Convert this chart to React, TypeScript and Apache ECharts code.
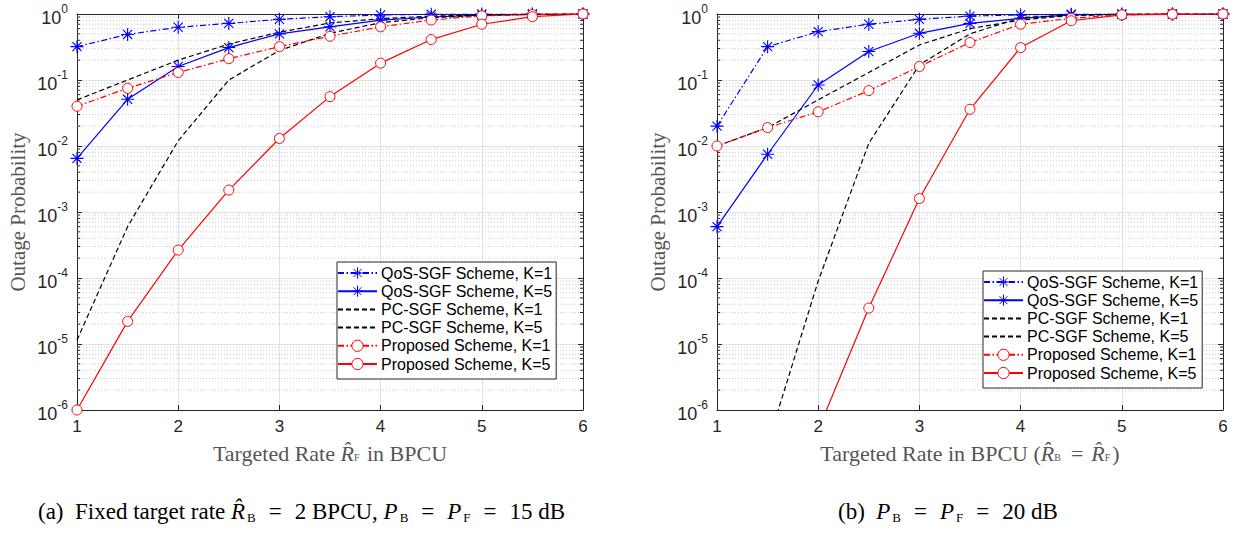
import React, { useEffect, useRef } from 'react';
import * as echarts from 'echarts';

// ---------- data ----------
const rates = [1, 1.5, 2, 2.5, 3, 3.5, 4, 4.5, 5, 5.5, 6];
const xTicks = [1, 2, 3, 4, 5, 6];
const seriesNames = [
  'QoS-SGF Scheme, K=1',
  'QoS-SGF Scheme, K=5',
  'PC-SGF Scheme, K=1',
  'PC-SGF Scheme, K=5',
  'Proposed Scheme, K=1',
  'Proposed Scheme, K=5',
];

// (a) fixed R_B = 2 BPCU, P = 15 dB
const qosK1A = [0.32, 0.49, 0.63, 0.72, 0.83, 0.91, 0.97, 0.99, 1.0, 1.0, 1.0];
const qosK5A = [0.0065, 0.051, 0.16, 0.31, 0.5, 0.64, 0.81, 0.9, 0.96, 0.99, 1.0];
const pcK1A = [0.05, 0.1, 0.2, 0.35, 0.53, 0.73, 0.85, 0.93, 0.97, 0.99, 1.0];
const pcK5A = [1.15e-5, 6e-4, 0.012, 0.1, 0.28, 0.51, 0.74, 0.88, 0.95, 0.99, 1.0];
const propK1A = [0.04, 0.075, 0.13, 0.21, 0.32, 0.46, 0.64, 0.81, 0.94, 0.98, 1.0];
const propK5A = [1e-6, 2.2e-5, 2.65e-4, 2.15e-3, 0.013, 0.056, 0.18, 0.41, 0.7, 0.91, 1.0];

// (b) P = 20 dB
const qosK1B = [0.02, 0.32, 0.54, 0.7, 0.83, 0.93, 0.97, 0.99, 1.0, 1.0, 1.0];
const qosK5B = [6e-4, 0.0075, 0.084, 0.27, 0.51, 0.72, 0.86, 0.97, 0.99, 1.0, 1.0];
const pcK1B = [0.01, 0.019, 0.05, 0.13, 0.34, 0.6, 0.81, 0.95, 0.99, 1.0, 1.0];
const pcK5B = [null, 3e-7, 9e-5, 0.011, 0.17, 0.5, 0.88, 0.97, 0.99, 1.0, 1.0];
const propK1B = [0.01, 0.019, 0.033, 0.069, 0.16, 0.37, 0.7, 0.86, 0.97, 1.0, 1.0];
const propK5B = [null, null, 5e-7, 3.5e-5, 1.6e-3, 0.036, 0.31, 0.79, 0.97, 0.99, 1.0];

const Y_MIN = 1e-6;
const Y_MAX = 1;

// ---------- styles ----------
const AXIS_COLOR = '#262626';
const ASTERISK = 'path://M6,0L6,12M0,6L12,6M1.8,1.8L10.2,10.2M1.8,10.2L10.2,1.8';
const DASH_DOT = [6, 2.5, 1.5, 2.5];
const DASHED = [5, 3];

const seriesStyles = [
  { color: '#0000ff', type: DASH_DOT as any, symbol: ASTERISK, size: 13, kind: 'star' },
  { color: '#0000ff', type: 'solid' as any, symbol: ASTERISK, size: 13, kind: 'star' },
  { color: '#000000', type: DASHED as any, symbol: 'circle', size: 0, kind: 'none' },
  { color: '#000000', type: DASHED as any, symbol: 'circle', size: 0, kind: 'none' },
  { color: '#ff0000', type: DASH_DOT as any, symbol: 'circle', size: 10, kind: 'ring' },
  { color: '#ff0000', type: 'solid' as any, symbol: 'circle', size: 10, kind: 'ring' },
];

const GRIDS = [
  { left: 77, top: 14, width: 506, height: 396 },
  { left: 717, top: 14, width: 506, height: 396 },
];

function minorValues(): number[] {
  const out: number[] = [];
  for (let e = -6; e < 0; e++) {
    for (let m = 2; m <= 9; m++) out.push(m * Math.pow(10, e));
  }
  return out;
}

function makeLine(values: (number | null)[], idx: number, g: number) {
  const s = seriesStyles[idx];
  let itemStyle: any;
  if (s.kind === 'none') itemStyle = { color: 'rgba(0,0,0,0)', borderColor: 'rgba(0,0,0,0)', borderWidth: 0 };
  else if (s.kind === 'ring') itemStyle = { color: '#ffffff', borderColor: s.color, borderWidth: 1.0 };
  else itemStyle = { color: s.color, borderColor: s.color, borderWidth: 1.1 };
  return {
    type: 'line',
    name: seriesNames[idx],
    xAxisIndex: g * 2,
    yAxisIndex: g * 2,
    data: rates.map((x, i) => [x, values[i]]),
    symbol: s.symbol,
    symbolSize: s.size,
    showSymbol: s.kind !== 'none',
    clip: true,
    z: 5,
    lineStyle: { color: s.color, width: 1.2, type: s.type },
    itemStyle,
    emphasis: { disabled: true },
  };
}

function makeMinor(g: number) {
  return {
    type: 'custom',
    xAxisIndex: g * 2,
    yAxisIndex: g * 2,
    silent: true,
    z: 1,
    data: minorValues().map((v) => [xTicks[0], v]),
    renderItem: (params: any, api: any) => {
      const v = api.value(1);
      const p1 = api.coord([xTicks[0], v]);
      const p2 = api.coord([xTicks[xTicks.length - 1], v]);
      return {
        type: 'group',
        children: [
          {
            type: 'line',
            shape: { x1: p1[0], y1: p1[1], x2: p2[0], y2: p2[1] },
            style: { stroke: '#cccccc', lineWidth: 1, lineDash: [1, 2] },
          },
          {
            type: 'line',
            shape: { x1: p1[0], y1: p1[1], x2: p1[0] + 3, y2: p1[1] },
            style: { stroke: AXIS_COLOR, lineWidth: 1 },
          },
          {
            type: 'line',
            shape: { x1: p2[0] - 3, y1: p2[1], x2: p2[0], y2: p2[1] },
            style: { stroke: AXIS_COLOR, lineWidth: 1 },
          },
        ],
      };
    },
  };
}

const serif = 'Liberation Serif';
const sans = 'Liberation Sans';
const NAME_COLOR = '#555555';

function xAxes(g: number, nameStr: string, rich: any) {
  return [
    {
      type: 'value',
      gridIndex: g,
      min: 1,
      max: 6,
      interval: 1,
      position: 'bottom',
      name: nameStr,
      nameLocation: 'middle',
      nameGap: 32,
      nameTextStyle: { rich },
      axisLine: { lineStyle: { color: AXIS_COLOR, width: 1 } },
      axisTick: { inside: true, length: 5, lineStyle: { color: AXIS_COLOR } },
      axisLabel: { color: AXIS_COLOR, fontSize: 17, fontFamily: sans, margin: 8 },
      splitLine: { show: true, lineStyle: { color: '#e1e1e1', width: 1 } },
    },
    {
      type: 'value',
      gridIndex: g,
      min: 1,
      max: 6,
      interval: 1,
      position: 'top',
      axisLine: { lineStyle: { color: AXIS_COLOR, width: 1 } },
      axisTick: { inside: true, length: 5, lineStyle: { color: AXIS_COLOR } },
      axisLabel: { show: false },
      splitLine: { show: false },
    },
  ];
}

function yAxes(g: number) {
  return [
    {
      type: 'log',
      gridIndex: g,
      min: Y_MIN,
      max: Y_MAX,
      logBase: 10,
      splitNumber: 6,
      position: 'left',
      name: 'Outage Probability',
      nameLocation: 'middle',
      nameGap: 49,
      nameTextStyle: { fontFamily: serif, fontSize: 21, color: NAME_COLOR },
      axisLine: { lineStyle: { color: AXIS_COLOR, width: 1 } },
      axisTick: { inside: true, length: 5, lineStyle: { color: AXIS_COLOR } },
      axisLabel: {
        margin: 9,
        formatter: (v: number) => {
          const e = Math.round(Math.log10(v));
          return '{b|10}{s|' + e + '}';
        },
        rich: {
          b: { fontSize: 18, fontFamily: sans, color: AXIS_COLOR, padding: [7, 0, 0, 0] },
          s: { fontSize: 12, fontFamily: sans, color: AXIS_COLOR, padding: [0, 0, 10, 0] },
        },
      },
      splitLine: { show: true, lineStyle: { color: '#e1e1e1', width: 1 } },
    },
    {
      type: 'log',
      gridIndex: g,
      min: Y_MIN,
      max: Y_MAX,
      logBase: 10,
      splitNumber: 6,
      position: 'right',
      axisLine: { lineStyle: { color: AXIS_COLOR, width: 1 } },
      axisTick: { inside: true, length: 5, lineStyle: { color: AXIS_COLOR } },
      axisLabel: { show: false },
      splitLine: { show: false },
    },
  ];
}

const nameRich = {
  n: { fontFamily: serif, fontSize: 22, color: NAME_COLOR },
  e: { fontFamily: serif, fontSize: 22, color: NAME_COLOR, padding: [0, 8, 0, 8] },
  i: { fontFamily: serif, fontSize: 22, fontStyle: 'italic', color: NAME_COLOR },
  sub: { fontFamily: serif, fontSize: 10, color: NAME_COLOR, padding: [9, 2, 0, 0] },
};

const capRich = {
  n: { fontFamily: serif, fontSize: 23, color: '#000000' },
  e: { fontFamily: serif, fontSize: 23, color: '#000000', padding: [0, 13, 0, 13] },
  i: { fontFamily: serif, fontSize: 23, fontStyle: 'italic', color: '#000000' },
  sub: { fontFamily: serif, fontSize: 13, color: '#000000', padding: [12, 0, 0, 2] },
};

function legendCfg(left: number, top: number) {
  return {
    data: seriesNames,
    orient: 'vertical',
    left,
    top,
    backgroundColor: '#ffffff',
    borderColor: AXIS_COLOR,
    borderWidth: 1,
    padding: [3, 4, 7, 0],
    itemWidth: 39,
    itemHeight: 14,
    itemGap: 2.2,
    selectedMode: false,
    itemStyle: { borderWidth: 1 },
    textStyle: { fontFamily: sans, fontSize: 16, lineHeight: 16, color: '#000000', padding: [0, 0, 0, -1] },
  };
}

export default function App() {
  const ref = useRef<HTMLDivElement>(null);
  useEffect(() => {
    if (!ref.current) return;
    const chart = echarts.init(ref.current, undefined, { renderer: 'svg' });
    const seriesA = [qosK1A, qosK5A, pcK1A, pcK5A, propK1A, propK5A];
    const seriesB = [qosK1B, qosK5B, pcK1B, pcK5B, propK1B, propK5B];
    const option: any = {
      animation: false,
      backgroundColor: '#ffffff',
      grid: GRIDS.map((g) => ({ ...g, show: false, containLabel: false })),
      xAxis: [
        ...xAxes(0, '{n|Targeted Rate }{i|R\u0302}{sub|F}{n| in BPCU}', nameRich),
        ...xAxes(1, '{n|Targeted Rate in BPCU (}{i|R\u0302}{sub|B}{e|=}{i|R\u0302}{sub|F}{n|)}', nameRich),
      ],
      yAxis: [...yAxes(0), ...yAxes(1)],
      legend: [legendCfg(337, 262), legendCfg(983, 271)],
      series: [
        makeMinor(0),
        makeMinor(1),
        ...seriesA.map((v, i) => makeLine(v, i, 0)),
        ...seriesB.map((v, i) => makeLine(v, i, 1)),
      ],
      graphic: [
        {
          type: 'text',
          left: 38,
          top: 500,
          style: {
            text: '{n|(a)  Fixed target rate }{i|R\u0302}{sub|B}{e|=}{n|2 BPCU, }{i|P}{sub|B}{e|=}{i|P}{sub|F}{e|=}{n|15 dB}',
            rich: capRich,
          },
        },
        {
          type: 'text',
          left: 838,
          top: 500,
          style: {
            text: '{n|(b)  }{i|P}{sub|B}{e|=}{i|P}{sub|F}{e|=}{n|20 dB}',
            rich: capRich,
          },
        },
      ],
    };
    chart.setOption(option);
    return () => chart.dispose();
  }, []);
  return (
    <div
      ref={ref}
      style={{ position: 'fixed', left: 0, top: 0, width: 1234, height: 535, background: '#fff' }}
    />
  );
}
